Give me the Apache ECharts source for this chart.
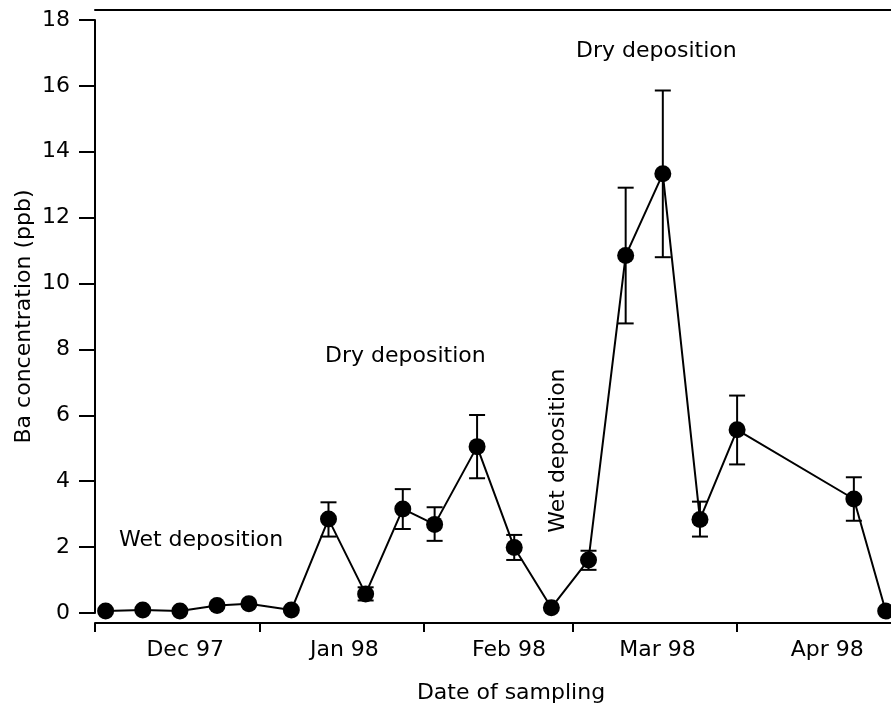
<html>
<head>
<meta charset="UTF-8">
<script src="https://cdn.jsdelivr.net/npm/echarts@6/dist/echarts.min.js"></script>
<style>
	body { margin: 0; background: #fff; }
</style>
</head>
<body>
	<div id="baChart" style="height: 705px; width: 891px"></div>
</body>
<script>
	// sampling dates and Ba concentration (ppb)
	var sampleDates = ['1997-12-03', '1997-12-10', '1997-12-17', '1997-12-24', '1997-12-30',
		'1998-01-07', '1998-01-14', '1998-01-21', '1998-01-28', '1998-02-03',
		'1998-02-11', '1998-02-18', '1998-02-25', '1998-03-04', '1998-03-11',
		'1998-03-18', '1998-03-25', '1998-04-01', '1998-04-23', '1998-04-29'];
	var baValues = [0.06, 0.09, 0.06, 0.23, 0.28, 0.09, 2.85, 0.58, 3.16, 2.69,
		5.05, 1.99, 0.16, 1.61, 10.85, 13.33, 2.84, 5.56, 3.46, 0.06];
	// error bar ends, null where there is no bar
	var errLow = [null, null, null, null, null, null, 2.32, 0.38, 2.55, 2.19,
		4.09, 1.61, null, 1.31, 8.79, 10.80, 2.32, 4.51, 2.80, null];
	var errHigh = [null, null, null, null, null, null, 3.36, 0.78, 3.76, 3.21,
		6.01, 2.37, null, 1.89, 12.91, 15.86, 3.38, 6.60, 4.12, null];

	// month ticks and the month labels between them
	var monthTicks = ['1997-12-01', '1998-01-01', '1998-02-01', '1998-03-01', '1998-04-01'];
	var monthLabelDates = ['1997-12-18', '1998-01-17', '1998-02-17', '1998-03-17', '1998-04-18'];
	var monthLabels = ['Dec 97', 'Jan 98', 'Feb 98', 'Mar 98', 'Apr 98'];
	var yTicks = [0, 2, 4, 6, 8, 10, 12, 14, 16, 18];

	// text notes on the plot
	var noteTexts = ['Wet deposition', 'Dry deposition', 'Wet deposition', 'Dry deposition'];
	var noteDates = ['1997-12-21', '1998-01-28T12:00', '1998-02-26T05:00', '1998-03-16T19:00'];
	var noteValues = [2.20, 7.80, 4.93, 17.06];
	var noteRotate = [0, 0, 90, 0];

	var FONT = 'DejaVu Sans';

	function ts(s) {
		if (s.length == 10) s = s + 'T00:00';
		return new Date(s).getTime();
	}

	var xMin = ts('1997-12-01');
	var xMax = ts('1998-04-30');

	var lineData = [];
	var errData = [];
	for (var i = 0; i < sampleDates.length; i++) {
		lineData.push([ts(sampleDates[i]), baValues[i]]);
		if (errLow[i] != null) {
			errData.push([ts(sampleDates[i]), errLow[i], errHigh[i]]);
		}
	}
	var noteData = [];
	for (var i = 0; i < noteTexts.length; i++) {
		noteData.push({
			name: noteTexts[i],
			value: [ts(noteDates[i]), noteValues[i]],
			label: { rotate: noteRotate[i] }
		});
	}
	var labelTs = monthLabelDates.map(ts);

	var baChart = echarts.init(document.getElementById('baChart'));
	var option = {
		animation: false,
		backgroundColor: '#fff',
		textStyle: { fontFamily: FONT },
		grid: { left: 95, right: 0, top: 20, bottom: 92, containLabel: false, outerBoundsMode: 'none' },
		xAxis: [{
			type: 'value',
			min: xMin,
			max: xMax,
			offset: 10,
			splitLine: { show: false },
			axisLine: { show: true, onZero: false, lineStyle: { color: '#000', width: 2 } },
			axisTick: {
				show: true,
				length: 9,
				customValues: monthTicks.map(ts),
				lineStyle: { color: '#000', width: 2 }
			},
			axisLabel: {
				customValues: labelTs,
				margin: 16,
				color: '#000',
				fontSize: 22,
				fontFamily: FONT,
				formatter: function (v) {
					var k = labelTs.indexOf(v);
					return k >= 0 ? monthLabels[k] : '';
				}
			},
			name: 'Date of sampling',
			nameLocation: 'middle',
			nameGap: 59,
			nameMoveOverlap: false,
			nameTextStyle: { color: '#000', fontSize: 22, fontFamily: FONT, padding: [0, 0, 0, 36] }
		}, {
			// top frame line
			type: 'value',
			min: xMin,
			max: xMax,
			position: 'top',
			offset: 10,
			splitLine: { show: false },
			axisLine: { show: true, onZero: false, lineStyle: { color: '#000', width: 2 } },
			axisTick: { show: false },
			axisLabel: { show: false }
		}],
		yAxis: {
			type: 'value',
			min: 0,
			max: 18,
			interval: 2,
			splitLine: { show: false },
			axisLine: { show: true, onZero: false, lineStyle: { color: '#000', width: 2 } },
			axisTick: { show: true, length: 16, lineStyle: { color: '#000', width: 2 } },
			axisLabel: {
				margin: 25,
				color: '#000',
				fontSize: 22,
				fontFamily: FONT,
				formatter: function (v) { return yTicks.indexOf(v) >= 0 ? String(v) : ''; }
			},
			name: 'Ba concentration (ppb)',
			nameLocation: 'middle',
			nameGap: 60,
			nameMoveOverlap: false,
			nameTextStyle: { color: '#000', fontSize: 22, fontFamily: FONT }
		},
		series: [{
			name: 'error',
			type: 'custom',
			data: errData,
			encode: { x: 0, y: [1, 2] },
			z: 2,
			renderItem: function (params, api) {
				var x = api.value(0);
				var lo = api.coord([x, api.value(1)]);
				var hi = api.coord([x, api.value(2)]);
				var half = 8;
				var style = { stroke: '#000', lineWidth: 2 };
				return {
					type: 'group',
					children: [
						{ type: 'line', shape: { x1: lo[0], y1: lo[1], x2: hi[0], y2: hi[1] }, style: style },
						{ type: 'line', shape: { x1: lo[0] - half, y1: lo[1], x2: lo[0] + half, y2: lo[1] }, style: style },
						{ type: 'line', shape: { x1: hi[0] - half, y1: hi[1], x2: hi[0] + half, y2: hi[1] }, style: style }
					]
				};
			}
		}, {
			name: 'Ba',
			type: 'line',
			data: lineData,
			z: 3,
			symbol: 'circle',
			symbolSize: 17,
			showAllSymbol: true,
			itemStyle: { color: '#000' },
			lineStyle: { color: '#000', width: 2 }
		}, {
			name: 'notes',
			type: 'scatter',
			data: noteData,
			symbolSize: 0,
			silent: true,
			itemStyle: { opacity: 1 },
			label: {
				show: true,
				position: 'inside',
				formatter: '{b}',
				color: '#000',
				opacity: 1,
				fontSize: 22,
				fontFamily: FONT
			}
		}]
	};
	baChart.setOption(option);
</script>
</html>
